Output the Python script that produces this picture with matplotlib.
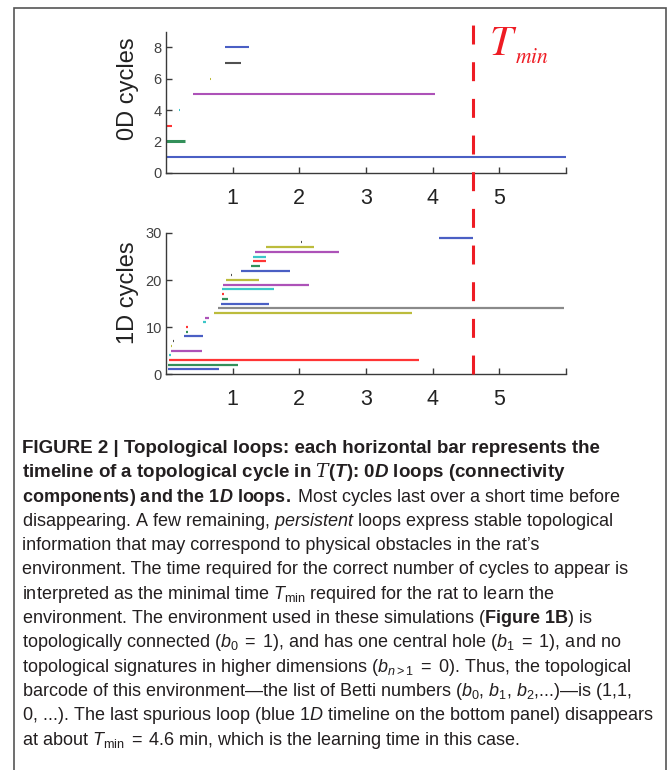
import matplotlib
matplotlib.use('Agg')
import matplotlib.pyplot as plt
from matplotlib import transforms
from matplotlib.lines import Line2D
from matplotlib.patches import Rectangle

# ---- data ----
# 0D barcode: birth / death time of each cycle (rows 1..8)
births_0d = [0.0, 0.0, 0.02, 0.19, 0.40, 0.66, 0.885, 0.885]
deaths_0d = [6.0, 0.28, 0.09, 0.21, 4.03, 0.68, 1.125, 1.25]

# 1D barcode (rows 1..29)
births_1d = [0.025, 0.025, 0.05, 0.05, 0.075, 0.08, 0.10, 0.275, 0.305, 0.305,
             0.56, 0.59, 0.725, 0.775, 0.825, 0.835, 0.845, 0.845, 0.855, 0.905,
             0.98, 1.125, 1.275, 1.305, 1.305, 1.34, 1.50, 2.02, 4.10]
deaths_1d = [0.79, 1.075, 3.80, 0.07, 0.535, 0.095, 0.12, 0.55, 0.33, 0.325,
             0.605, 0.64, 3.685, 5.975, 1.54, 0.925, 0.865, 1.615, 2.15, 1.39,
             0.995, 1.865, 1.405, 1.495, 1.495, 2.60, 2.225, 2.035, 4.60]

t_min = 4.6
x_ticks = [1, 2, 3, 4, 5, 6]
x_ticklabels = ['1', '2', '3', '4', '5', '']
y_ticks_0d = [0, 2, 4, 6, 8]
y_ticks_1d = [0, 10, 20, 30]

caption_lines = [
    ('bold', r'FIGURE 2 | Topological loops: each horizontal bar represents the'),
    ('bold', r'timeline of a topological cycle in $\mathcal{T}$($\mathbfit{T}$): 0$\mathbfit{D}$ loops (connectivity'),
    ('normal', r'$\mathbf{components)\ and\ the\ 1}\mathbfit{D}\mathbf{\ loops.}\;$Most cycles last over a short time before'),
    ('normal', r'disappearing. A few remaining, $\mathit{persistent}$ loops express stable topological'),
    ('normal', 'information that may correspond to physical obstacles in the rat\u2019s'),
    ('normal', 'environment. The time required for the correct number of cycles to appear is'),
    ('normal', r'interpreted as the minimal time $T_{\mathrm{min}}$ required for the rat to learn the'),
    ('normal', r'environment. The environment used in these simulations ($\mathbf{Figure\ 1B}$) is'),
    ('normal', r'topologically connected ($b_0\;=\;1$), and has one central hole ($b_1\;=\;1$), and no'),
    ('normal', r'topological signatures in higher dimensions ($b_{n>1}\;=\;0$). Thus, the topological'),
    ('normal', 'barcode of this environment\u2014the list of Betti numbers ($b_0$, $b_1$, $b_2$,...)\u2014is (1,1,'),
    ('normal', r'0, ...). The last spurious loop (blue 1$D$ timeline on the bottom panel) disappears'),
    ('normal', r'at about $T_{\mathrm{min}}\;=\;4.6$ min, which is the learning time in this case.'),
]

# ---- style ----
bar_colors = ['#4a5fc4', '#33905a', '#ff3535', '#3cc6c8', '#ad52b8', '#bcbc3c', '#505050']

plt.rcParams['font.family'] = ['Liberation Sans', 'DejaVu Sans']
plt.rcParams['mathtext.fontset'] = 'custom'
plt.rcParams['mathtext.rm'] = 'Liberation Sans'
plt.rcParams['mathtext.it'] = 'Liberation Sans:italic'
plt.rcParams['mathtext.bf'] = 'Liberation Sans:bold'
plt.rcParams['mathtext.bfit'] = 'Liberation Sans:bold:italic'
plt.rcParams['mathtext.cal'] = 'DejaVu Serif:italic'

W, H = 672, 770
fig = plt.figure(figsize=(W / 100, H / 100), dpi=100)
axc = '#3a3a3a'


def px(x, y):
    return x / W, 1 - y / H


def style_axes(ax, yticks, ylim, label, label_y):
    for s in ['top', 'right']:
        ax.spines[s].set_visible(False)
    for s in ['left', 'bottom']:
        ax.spines[s].set_color(axc)
        ax.spines[s].set_linewidth(1.0)
    ax.set_xlim(0, 6)
    ax.set_ylim(*ylim)
    ax.set_xticks(x_ticks)
    ax.set_xticklabels(x_ticklabels)
    ax.set_yticks(yticks)
    ax.tick_params(axis='both', direction='in', length=4, width=1.0, color=axc)
    ax.tick_params(axis='x', labelsize=15.5, pad=11, labelcolor='#222222')
    ax.tick_params(axis='y', labelsize=10.5, pad=3, labelcolor='#404040')
    ax.set_ylabel(label, fontsize=17, color='#222222')
    ax.yaxis.set_label_coords(-0.068, label_y)


ax0 = fig.add_axes([166 / W, 1 - 172.7 / H, 400 / W, 141 / H])
rows0 = list(range(1, len(births_0d) + 1))
cols0 = [bar_colors[(r - 1) % 7] for r in rows0]
widths0 = [2.2 if r == 2 else 1.5 for r in rows0]
ax0.hlines(rows0, births_0d, deaths_0d, colors=cols0, linewidths=widths0)
style_axes(ax0, y_ticks_0d, (0, 9), '0D cycles', 0.594)

ax1 = fig.add_axes([166 / W, 1 - 374 / H, 400 / W, 141 / H])
rows1 = list(range(1, len(births_1d) + 1))
cols1 = [bar_colors[(r - 1) % 7] for r in rows1]
cols1[13] = '#8a8a8a'
ax1.hlines(rows1, births_1d, deaths_1d, colors=cols1, linewidths=1.6)
style_axes(ax1, y_ticks_1d, (0, 30), '1D cycles', 0.578)

# T_min dashed line spanning both panels
tr = transforms.blended_transform_factory(ax1.transData, fig.transFigure)
y_bot = 1 - 374 / H
y_top = 1 - 18 / H
ln = Line2D([t_min, t_min], [y_bot, y_top], transform=tr, color='#ee1c24',
            lw=2.2, dashes=(6.2, 5.8), clip_on=False)
fig.add_artist(ln)
fig.text(*px(489, 55), r'$T$', math_fontfamily='stix', fontsize=30,
         color='#ee1c24', ha='left', va='baseline')
fig.text(*px(515, 63), r'$min$', math_fontfamily='stix', fontsize=15.5,
         color='#ee1c24', ha='left', va='baseline')

# frame around figure + caption
fig.add_artist(Rectangle((14 / W, -0.02), 652 / W, 1 - 8 / H + 0.02,
                         transform=fig.transFigure, fill=False,
                         ec='#555555', lw=1.2))

base = 453
step = 24.3
for i, (w, line) in enumerate(caption_lines):
    size = 13.5 if w == 'bold' else 13
    fig.text(*px(22, base + i * step), line, fontsize=size, fontweight=w,
             color='#231f20', ha='left', va='baseline')

fig.savefig('out.png', dpi=100)
